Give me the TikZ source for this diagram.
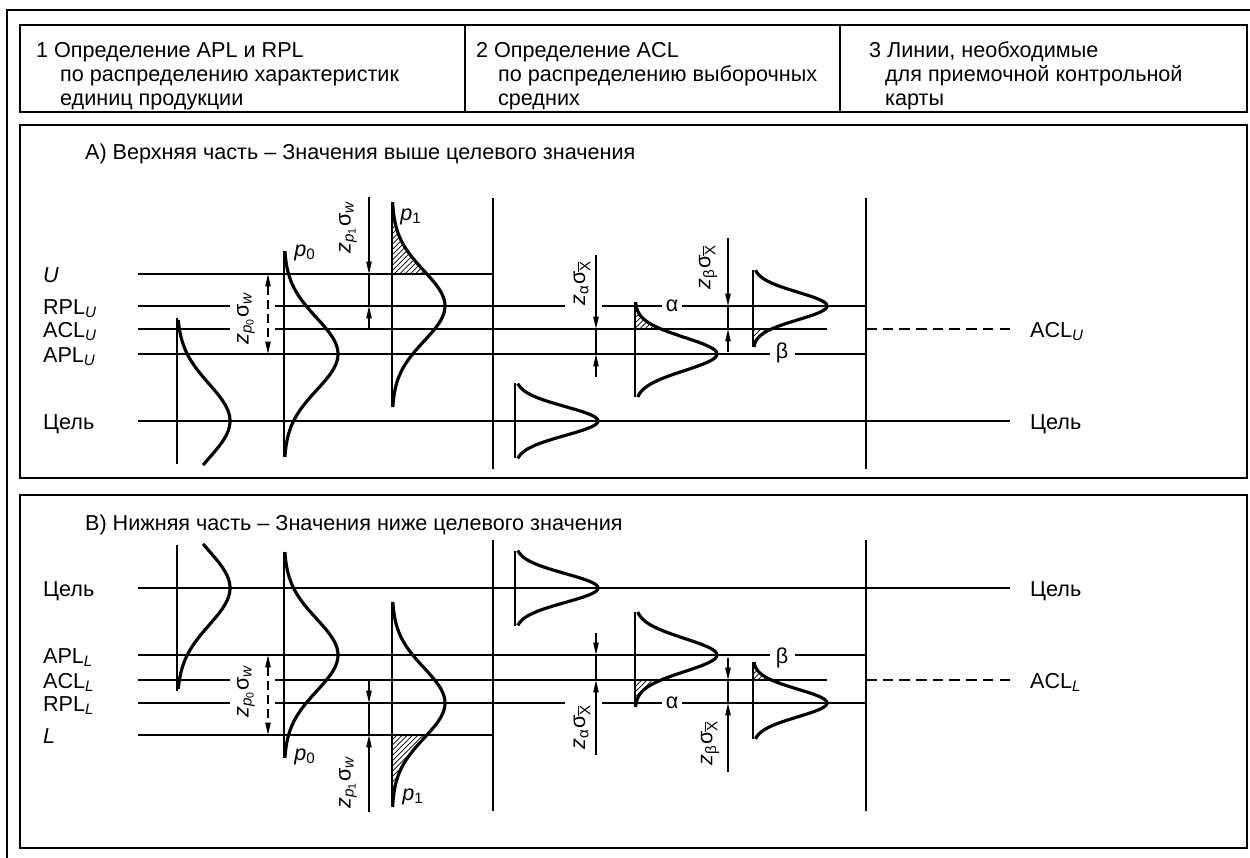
\documentclass[tikz,border=0pt]{standalone}
\usepackage{fontspec}
\setmainfont{Liberation Sans}
\usepackage{tikz}
\usetikzlibrary{positioning, arrows.meta, patterns}
\newcommand{\Sb}[1]{\textsubscript{\textit{#1}}}
\newcommand{\Xbar}{\vbox{\hrule height 0.4pt\kern0.7pt\hbox{X}}}
\newcommand{\Xm}{\textsubscript{\Xbar}}
% campana: eje x, centro y, amplitud, sigma, t inicial, t final
\newcommand{\Campana}[6]{\draw[curva] plot[domain=#5:#6, samples=70, smooth, variable=\t] ({#1+#3*exp(-(\t)*(\t)/2)}, {#2+#4*\t});}
\newcommand{\Rayado}[6]{\fill[rayado] (#1,{#2+#4*#5}) -- plot[domain=#5:#6, samples=40, smooth, variable=\t] ({#1+#3*exp(-(\t)*(\t)/2)}, {#2+#4*\t}) -- (#1,{#2+#4*#6}) -- cycle;}
\tikzset{
  texto/.style={font=\fontsize{12.3}{13.6}\selectfont, inner sep=1pt},
  linea/.style={line width=0.8pt},
  curva/.style={line width=1.8pt, line join=round},
  marco/.style={line width=1.2pt},
  rayado/.style={pattern=north east lines},
  cota/.style={line width=0.8pt, -{Triangle[length=7pt,width=3pt]}},
  cotados/.style={line width=0.8pt, {Triangle[length=7pt,width=3pt]}-{Triangle[length=7pt,width=3pt]}, dash pattern=on 5pt off 3pt},
  rayas/.style={line width=0.8pt, dash pattern=on 6pt off 3.5pt},
}

\begin{document}
\begin{tikzpicture}[x=0.02cm, y=-0.02cm]
        \useasboundingbox (0,0) rectangle (1250,858);
        % Marco exterior
        \draw[marco] (7,858) -- (7,10) -- (1250,10);

        %######## Cabecera #############
        \draw[marco] (20,25) rectangle (1247,112);
        \draw[linea] (465,25) -- (465,112);
        \draw[linea] (840,25) -- (840,112);
        \node[texto, anchor=base west] (c1a) at (34,58) {1 Определение APL и RPL};
        \node[texto, anchor=base west] (c1b) at (58,82) {по распределению характеристик};
        \node[texto, anchor=base west] (c1c) at (58,106) {единиц продукции};
        \node[texto, anchor=base west] (c2a) at (474,58) {2 Определение ACL};
        \node[texto, anchor=base west] (c2b) at (496,82) {по распределению выборочных};
        \node[texto, anchor=base west] (c2c) at (496,106) {средних};
        \node[texto, anchor=base west] (c3a) at (867,58) {3 Линии, необходимые};
        \node[texto, anchor=base west] (c3b) at (883,82) {для приемочной контрольной};
        \node[texto, anchor=base west] (c3c) at (883,106) {карты};

        %######## Parte superior #############
        \draw[marco] (20,125) rectangle (1247,478);
        \node[texto, anchor=base west] (tituloA) at (83,160) {А) Верхняя часть – Значения выше целевого значения};
        % Niveles
        \node[texto, anchor=base west] (U) at (41,282) {\textit{U}};
        \node[texto, anchor=base west] (RPLu) at (41,314) {RPL\Sb{U}};
        \node[texto, anchor=base west] (ACLu) at (41,337) {ACL\Sb{U}};
        \node[texto, anchor=base west] (APLu) at (41,362) {APL\Sb{U}};
        \node[texto, anchor=base west] (metaA) at (41,429) {Цель};
        \draw[linea] (138,274) -- (493,274);
        \draw[linea] (138,306) -- (230,306) (275,306) -- (565,306) (602,306) -- (662,306) (682,306) -- (866,306);
        \draw[linea] (138,329) -- (230,329) (275,329) -- (827,329);
        \draw[linea] (138,354) -- (770,354) (795,354) -- (866,354);
        \draw[linea] (138,421) -- (1010,421);
        \draw[rayas] (866,329) -- (1010,329);
        \node[texto, anchor=base west] (ACLuD) at (1028,337) {ACL\Sb{U}};
        \node[texto, anchor=base west] (metaAD) at (1028,429) {Цель};
        % Separadores
        \draw[linea] (493,198) -- (493,469);
        \draw[linea] (866,198) -- (866,469);
        % Columna 1
        \draw[linea] (177,318) -- (177,464);
        \Campana{177}{421}{53}{37}{-2.73}{1.19}
        \draw[linea] (284,251) -- (284,457);
        \Campana{284}{354}{54}{36}{-2.86}{2.86}
        \Rayado{392}{306}{53}{35}{-2.97}{-0.914}
        \draw[linea] (392,202) -- (392,407);
        \Campana{392}{306}{53}{35}{-2.97}{2.89}
        \node[texto] (p0A) at (305,253) {\textit{p}\textsubscript{0}};
        \node[texto] (p1A) at (411,217) {\textit{p}\textsubscript{1}};
        % Cotas columna 1
        \coordinate (z0Ua) at (268,274);
        \coordinate (z0Ub) at (268,354);
        \draw[cotados] (z0Ua) -- (z0Ub);
        \node[texto, rotate=90] (z0U) at (246,318) {\textit{z}\textsubscript{\textit{p}\textsubscript{0}}σ\Sb{w}};
        \coordinate (z1Ua) at (369,197);
        \coordinate (z1Ub) at (369,274);
        \coordinate (z1Uc) at (369,306);
        \coordinate (z1Ud) at (369,329);
        \draw[cota] (z1Ua) -- (z1Ub);
        \draw[linea] (z1Ub) -- (z1Uc);
        \draw[cota] (z1Ud) -- (z1Uc);
        \node[texto, rotate=90] (z1U) at (348,227) {\textit{z}\textsubscript{\textit{p}\textsubscript{1}}σ\Sb{w}};
        % Columna 2
        \draw[linea] (515,383) -- (515,458);
        \Campana{515}{421}{83}{14.4}{-2.6}{2.6}
        \Rayado{635}{354}{82}{16.5}{-3.15}{-1.515}
        \draw[linea] (635,302) -- (635,397);
        \Campana{635}{354}{82}{16.5}{-3.15}{2.6}
        \Rayado{753}{306}{74}{13.8}{1.667}{2.97}
        \draw[linea] (753,270) -- (753,347);
        \Campana{753}{306}{74}{13.8}{-2.6}{2.97}
        \node[texto] (alfaA) at (672,306) {α};
        \node[texto] (betaA) at (782,353) {β};
        % Cotas columna 2
        \coordinate (zaUa) at (596,255);
        \coordinate (zaUb) at (596,329);
        \coordinate (zaUc) at (596,354);
        \coordinate (zaUd) at (596,377);
        \draw[cota] (zaUa) -- (zaUb);
        \draw[linea] (zaUb) -- (zaUc);
        \draw[cota] (zaUd) -- (zaUc);
        \node[texto, rotate=90] (zaU) at (582,283) {\textit{z}\textsubscript{α}σ\Xm};
        \coordinate (zbUa) at (728,238);
        \coordinate (zbUb) at (728,306);
        \coordinate (zbUc) at (728,329);
        \coordinate (zbUd) at (728,352);
        \draw[cota] (zbUa) -- (zbUb);
        \draw[linea] (zbUb) -- (zbUc);
        \draw[cota] (zbUd) -- (zbUc);
        \node[texto, rotate=90] (zbU) at (708,267) {\textit{z}\textsubscript{β}σ\Xm};

        %######## Parte inferior #############
        \draw[marco] (20,495) rectangle (1247,848);
        \node[texto, anchor=base west] (tituloB) at (83,530) {В) Нижняя часть – Значения ниже целевого значения};
        % Niveles
        \node[texto, anchor=base west] (metaB) at (41,596) {Цель};
        \node[texto, anchor=base west] (APLl) at (41,663) {APL\Sb{L}};
        \node[texto, anchor=base west] (ACLl) at (41,688) {ACL\Sb{L}};
        \node[texto, anchor=base west] (RPLl) at (41,711) {RPL\Sb{L}};
        \node[texto, anchor=base west] (L) at (41,743) {\textit{L}};
        \draw[linea] (138,588) -- (1010,588);
        \draw[linea] (138,655) -- (770,655) (795,655) -- (866,655);
        \draw[linea] (138,680) -- (230,680) (275,680) -- (827,680);
        \draw[linea] (138,703) -- (230,703) (275,703) -- (565,703) (602,703) -- (662,703) (682,703) -- (866,703);
        \draw[linea] (138,735) -- (493,735);
        \draw[rayas] (866,680) -- (1010,680);
        \node[texto, anchor=base west] (ACLlD) at (1028,688) {ACL\Sb{L}};
        \node[texto, anchor=base west] (metaBD) at (1028,596) {Цель};
        % Separadores
        \draw[linea] (493,540) -- (493,811);
        \draw[linea] (866,540) -- (866,811);
        % Columna 1
        \draw[linea] (177,545) -- (177,691);
        \Campana{177}{588}{53}{37}{-1.19}{2.73}
        \draw[linea] (284,552) -- (284,758);
        \Campana{284}{655}{54}{36}{-2.86}{2.86}
        \Rayado{392}{703}{53}{35}{0.914}{2.97}
        \draw[linea] (392,602) -- (392,807);
        \Campana{392}{703}{53}{35}{-2.89}{2.97}
        \node[texto] (p0B) at (305,757) {\textit{p}\textsubscript{0}};
        \node[texto] (p1B) at (413,797) {\textit{p}\textsubscript{1}};
        % Cotas columna 1
        \coordinate (z0La) at (268,655);
        \coordinate (z0Lb) at (268,735);
        \draw[cotados] (z0La) -- (z0Lb);
        \node[texto, rotate=90] (z0L) at (246,691) {\textit{z}\textsubscript{\textit{p}\textsubscript{0}}σ\Sb{w}};
        \coordinate (z1La) at (369,680);
        \coordinate (z1Lb) at (369,703);
        \coordinate (z1Lc) at (369,735);
        \coordinate (z1Ld) at (369,812);
        \draw[cota] (z1La) -- (z1Lb);
        \draw[linea] (z1Lb) -- (z1Lc);
        \draw[cota] (z1Ld) -- (z1Lc);
        \node[texto, rotate=90] (z1L) at (348,782) {\textit{z}\textsubscript{\textit{p}\textsubscript{1}}σ\Sb{w}};
        % Columna 2
        \draw[linea] (515,551) -- (515,626);
        \Campana{515}{588}{83}{14.4}{-2.6}{2.6}
        \Rayado{635}{655}{82}{16.5}{1.515}{3.15}
        \draw[linea] (635,612) -- (635,707);
        \Campana{635}{655}{82}{16.5}{-2.6}{3.15}
        \Rayado{753}{703}{74}{13.8}{-2.97}{-1.667}
        \draw[linea] (753,662) -- (753,739);
        \Campana{753}{703}{74}{13.8}{-2.97}{2.6}
        \node[texto] (alfaB) at (672,703) {α};
        \node[texto] (betaB) at (782,658) {β};
        % Cotas columna 2
        \coordinate (zaLa) at (596,633);
        \coordinate (zaLb) at (596,655);
        \coordinate (zaLc) at (596,680);
        \coordinate (zaLd) at (596,755);
        \draw[cota] (zaLa) -- (zaLb);
        \draw[linea] (zaLb) -- (zaLc);
        \draw[cota] (zaLd) -- (zaLc);
        \node[texto, rotate=90] (zaL) at (582,727) {\textit{z}\textsubscript{α}σ\Xm};
        \coordinate (zbLa) at (728,658);
        \coordinate (zbLb) at (728,680);
        \coordinate (zbLc) at (728,703);
        \coordinate (zbLd) at (728,772);
        \draw[cota] (zbLa) -- (zbLb);
        \draw[linea] (zbLb) -- (zbLc);
        \draw[cota] (zbLd) -- (zbLc);
        \node[texto, rotate=90] (zbL) at (710,743) {\textit{z}\textsubscript{β}σ\Xm};
\end{tikzpicture}
\end{document}
